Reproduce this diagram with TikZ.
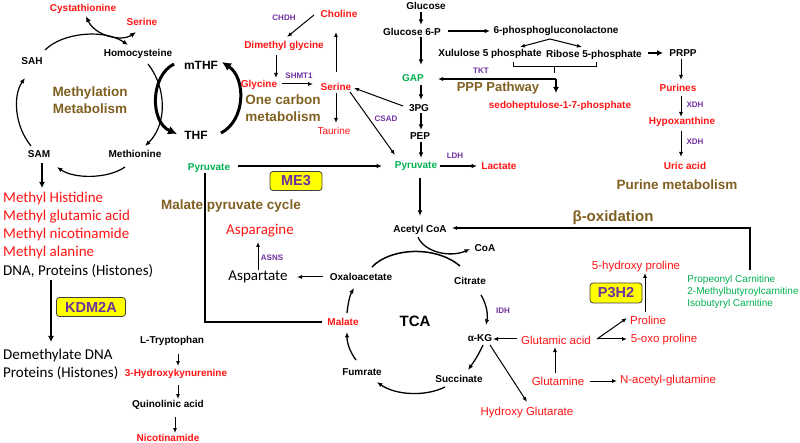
\documentclass[tikz,border=0pt]{standalone}
\usepackage{fontspec}
\setmainfont{Liberation Sans}
\newfontfamily\calfont{Carlito}
\usetikzlibrary{arrows.meta}
\definecolor{cred}{HTML}{FF1414}
\definecolor{cgreen}{HTML}{00B050}
\definecolor{cpurple}{HTML}{7030A0}
\definecolor{cbrown}{HTML}{7F6021}
\definecolor{cyel}{HTML}{FFFF00}
\begin{document}
\begin{tikzpicture}[x=1pt,y=-1pt,
  bk/.style={inner sep=1pt, font=\fontsize{10}{12}\selectfont\bfseries},
  rd/.style={bk, text=cred},
  gr/.style={bk, text=cgreen},
  enz/.style={inner sep=1pt, font=\fontsize{8}{10}\selectfont\bfseries, text=cpurple},
  ttl/.style={inner sep=1pt, font=\fontsize{13.5}{16.5}\selectfont\bfseries, text=cbrown, align=center},
  cal/.style={inner sep=1pt, font=\calfont\fontsize{15}{18}\selectfont, anchor=west},
  ari/.style={inner sep=1pt, font=\fontsize{11.5}{13}\selectfont, text=cred},
  ybox/.style={draw=black!75, line width=0.8pt, fill=cyel, rounded corners=3pt,
    font=\fontsize{14.5}{16}\selectfont\bfseries, text=cpurple, inner sep=0pt},
  arr/.style={-{Latex[length=5pt,width=4pt]}, line width=1pt},
  carr/.style={-{Latex[length=5.5pt,width=4.5pt]}, line width=1.2pt},
  garr/.style={-{Latex[length=5.5pt,width=4.5pt]}, line width=1.3pt},
  thk/.style={-{Latex[length=6pt,width=6pt]}, line width=2pt},
  fat/.style={-{Latex[length=9pt,width=9pt]}, line width=3pt},
  plain/.style={line width=1pt}
]
\useasboundingbox (0,0) rectangle (800,443);

% ---------- Methylation ----------
\node[rd] (cysta) at (83,9) {Cystathionine};
\node[rd] (serA) at (142,22) {Serine};
\node[bk] (homo) at (138,54) {Homocysteine};
\node[bk] (sah) at (32,61) {SAH};
\node[bk] (sam) at (39,154) {SAM};
\node[bk] (meth) at (135,154) {Methionine};
\node[ttl] (mmet) at (90,100) {Methylation\\Metabolism};
\node[inner sep=1pt, font=\fontsize{12}{14}\selectfont\bfseries] (mthf) at (201,65) {mTHF};
\node[inner sep=1pt, font=\fontsize{12}{14}\selectfont\bfseries] (thf) at (196,135) {THF};

\draw[carr] ([shift={(13,-11)}]sah.center) .. controls (63,32) and (105,29) .. ([shift={(-10,-9)}]homo.center);
\draw[carr] ([shift={(10,10)}]homo.center) .. controls (167,88) and (167,125) .. ([shift={(10,-8)}]meth.center);
\draw[carr] ([shift={(-10,13)}]meth.center) .. controls (108,179) and (74,179) .. ([shift={(18,13)}]sam.center);
\draw[carr] ([shift={(-8,-8)}]sam.center) .. controls (14,125) and (13,95) .. ([shift={(-7,17)}]sah.center);
\draw[{Latex[length=6pt,width=5pt]}-{Latex[length=6pt,width=5pt]}, line width=1.2pt]
  ([shift={(-6,10)}]serA.center) .. controls (122,42) and (95,36) .. ([shift={(3,7)}]cysta.center);
\draw[fat] ([shift={(-27,-1)}]mthf.center) .. controls (150,76) and (150,122) .. ([shift={(-19,-1)}]thf.center);
\draw[fat] ([shift={(25,-2)}]thf.center) .. controls (246,120) and (246,78) .. ([shift={(21,-3)}]mthf.center);

% ---------- One carbon ----------
\node[rd] (choline) at (339,14) {Choline};
\node[enz] (chdh) at (284,18) {CHDH};
\node[rd] (dmg) at (284,46) {Dimethyl glycine};
\node[rd] (gly) at (259,85) {Glycine};
\node[enz] (shmt) at (299,76) {SHMT1};
\node[rd] (ser) at (336,87) {Serine};
\node[ttl] (ocm) at (283,108) {One carbon\\metabolism};
\node[inner sep=1pt, font=\fontsize{10}{12}\selectfont, text=cred] (taur) at (334,131) {Taurine};
\node[enz] (csad) at (386,119) {CSAD};

\draw[arr] ([shift={(-25,1)}]choline.center) -- ([shift={(3,-9)}]dmg.center);
\draw[arr] ([shift={(-8,9)}]dmg.center) -- ([shift={(17,-7)}]gly.center);
\draw[arr] ([shift={(23,-1)}]gly.center) -- ([shift={(-23,-3)}]ser.center);
\draw[arr] ([shift={(0,-15)}]ser.center) -- ([shift={(-3,18)}]choline.center);
\draw[arr] ([shift={(0,6)}]ser.center) -- ([shift={(2,-8)}]taur.center);

% ---------- Glycolysis ----------
\node[bk] (glc) at (426,6) {Glucose};
\node[bk] (g6p) at (412,32) {Glucose 6-P};
\node[gr] (gap) at (413,78) {GAP};
\node[bk] (pg3) at (419,108) {3PG};
\node[bk] (pep) at (420,136) {PEP};
\node[gr] (pyr) at (416,166) {Pyruvate};
\node[enz] (ldh) at (455,156) {LDH};
\node[rd] (lac) at (499,166) {Lactate};

\draw[garr] ([shift={(-5,6)}]glc.center) -- ([shift={(9,-7)}]g6p.center);
\draw[garr] ([shift={(9,5)}]g6p.center) -- ([shift={(8,-13)}]gap.center);
\draw[garr] ([shift={(8,7)}]gap.center) -- ([shift={(2,-8)}]pg3.center);
\draw[garr] ([shift={(2,5)}]pg3.center) -- ([shift={(1,-6)}]pep.center);
\draw[garr] ([shift={(1,6)}]pep.center) -- ([shift={(5,-8)}]pyr.center);
\draw[garr] ([shift={(24,0)}]pyr.center) -- ([shift={(-22,0)}]lac.center);
\draw[arr] ([shift={(-16,-2)}]pg3.center) -- ([shift={(18,1)}]ser.center);
\draw[arr] ([shift={(14,5)}]ser.center) -- ([shift={(-21,-11)}]pyr.center);

% ---------- PPP ----------
\node[bk] (pgl) at (556,31) {6-phosphogluconolactone};
\node[bk] (xu5p) at (490,54) {Xululose 5 phosphate};
\node[bk] (r5p) at (594,55) {Ribose 5-phosphate};
\node[enz] (tkt) at (481,71) {TKT};
\node[ttl, font=\fontsize{13}{15}\selectfont\bfseries] (ppp) at (498,88) {PPP Pathway};
\node[rd] (sedo) at (560,106) {sedoheptulose-1-7-phosphate};
\coordinate (tj) at (556,79);

\draw[garr] ([shift={(36,-1)}]g6p.center) -- ([shift={(-66,0)}]pgl.center);
\draw[arr] ([shift={(-6,8)}]pgl.center) -- ([shift={(30,-7)}]xu5p.center);
\draw[arr] ([shift={(-6,8)}]pgl.center) -- ([shift={(-12,-8)}]r5p.center);
\draw[plain] ([shift={(23,8)}]xu5p.center) |- ([shift={(2,12)}]r5p.center) -- ([shift={(2,7)}]r5p.center);
\draw[plain] ([shift={(-40,12)}]r5p.center) -- ([shift={(-40,18)}]r5p.center);
\draw[arr, line width=1.3pt] (tj) -- ([shift={(25,1)}]gap.center);
\draw[thk] (tj) -- ([shift={(-4,-13)}]sedo.center);

% ---------- Purine ----------
\node[bk] (prpp) at (683,53) {PRPP};
\node[rd] (purines) at (678,88) {Purines};
\node[enz] (xdh1) at (695,105) {XDH};
\node[rd] (hypo) at (682,122) {Hypoxanthine};
\node[enz] (xdh2) at (695,142) {XDH};
\node[rd] (uric) at (685,166) {Uric acid};
\node[ttl] (purmet) at (677,185) {Purine metabolism};

\draw[thk] ([shift={(54,-2)}]r5p.center) -- ([shift={(-20,0)}]prpp.center);
\draw[arr] ([shift={(-2,6)}]prpp.center) -- ([shift={(3,-8)}]purines.center);
\draw[arr] ([shift={(3,8)}]purines.center) -- ([shift={(-1,-5)}]hypo.center);
\draw[arr] ([shift={(-1,9)}]hypo.center) -- ([shift={(-4,-9)}]uric.center);

% ---------- Methyl products ----------
\node[cal, text=cred] (mh) at (2,199) {Methyl Histidine};
\node[cal, text=cred] (mg) at (2,217) {Methyl glutamic acid};
\node[cal, text=cred] (mn) at (2,235) {Methyl nicotinamide};
\node[cal, text=cred] (ma) at (2,253) {Methyl alanine};
\node[cal] (dna) at (2,271) {DNA, Proteins (Histones)};
\node[cal, align=left] (demeth) at (2,364) {Demethylate DNA\\Proteins (Histones)};
\node[ybox, minimum width=69pt, minimum height=19pt] (kdm) at (91,307) {KDM2A};

\draw[thk] ([shift={(3,9)}]sam.center) -- ([shift={(40,-11)}]mh.west);
\draw[thk] ([shift={(49,9)}]dna.west) -- ([shift={(49,-22)}]demeth.west);

% ---------- Tryptophan ----------
\node[bk] (trp) at (172,341) {L-Tryptophan};
\node[rd] (hk) at (176,374) {3-Hydroxykynurenine};
\node[bk] (quin) at (168,405) {Quinolinic acid};
\node[rd] (nic) at (168,438) {Nicotinamide};

\draw[arr] ([shift={(6,13)}]trp.center) -- ([shift={(2,-8)}]hk.center);
\draw[arr] ([shift={(2,11)}]hk.center) -- ([shift={(10,-6)}]quin.center);
\draw[arr] ([shift={(7,12)}]quin.center) -- ([shift={(7,-5)}]nic.center);

% ---------- Malate pyruvate cycle ----------
\node[gr] (pyrL) at (209,168) {Pyruvate};
\node[ybox, minimum width=52pt, minimum height=19pt] (me3) at (296,181) {ME3};
\node[ttl] (mpc) at (231,206) {Malate pyruvate cycle};
\node[cal, anchor=center, text=cred] (asn) at (260,231) {Asparagine};
\node[enz] (asns) at (272,258) {ASNS};
\node[cal, anchor=center] (asp) at (258,277) {Aspartate};

% ---------- TCA ----------
\node[bk] (acoa) at (420,230) {Acetyl CoA};
\node[bk] (coa) at (485,248) {CoA};
\node[bk] (oaa) at (361,277) {Oxaloacetate};
\node[bk] (cit) at (470,281) {Citrate};
\node[inner sep=1pt, font=\fontsize{15}{17}\selectfont\bfseries] (tca) at (415,321) {TCA};
\node[enz] (idh) at (503,311) {IDH};
\node[bk] (akg) at (480,338) {α-KG};
\node[bk] (succ) at (459,379) {Succinate};
\node[bk] (fum) at (362,372) {Fumrate};
\node[rd] (mal) at (343,322) {Malate};

\draw[garr] ([shift={(29,-2)}]pyrL.center) -- ([shift={(-34,0)}]pyr.center);
\draw[plain, line width=1.2pt] ([shift={(-4,5)}]pyrL.center) |- ([shift={(-21,0)}]mal.center);
\draw[arr] ([shift={(-38,0)}]oaa.center) -- ([shift={(39,0)}]asp.center);
\draw[arr] ([shift={(0,-7)}]asp.center) -- ([shift={(-2,11)}]asn.center);
\draw[garr] ([shift={(4,12)}]pyr.center) -- ([shift={(0,-14)}]acoa.center);
\draw[plain, line width=1.5pt] ([shift={(11,-10)}]oaa.center) .. controls (390,248) and (435,245) .. ([shift={(-10,-15)}]cit.center);
\draw[garr] ([shift={(-2,7)}]acoa.center) .. controls (424,252) and (450,258) .. ([shift={(-15,1)}]coa.center);
\draw[garr] ([shift={(11,14)}]cit.center) .. controls (487,305) and (488,315) .. ([shift={(6,-13)}]akg.center);
\draw[garr] ([shift={(3,7)}]akg.center) .. controls (478,356) and (473,363) .. ([shift={(9,-9)}]succ.center);
\draw[garr] ([shift={(-14,8)}]succ.center) .. controls (425,397) and (395,395) .. ([shift={(15,10)}]fum.center);
\draw[garr] ([shift={(-6,-12)}]fum.center) .. controls (350,352) and (347,343) .. ([shift={(4,10)}]mal.center);
\draw[garr] ([shift={(4,-9)}]mal.center) .. controls (348,303) and (350,295) .. ([shift={(-7,11)}]oaa.center);

% ---------- Glutamate / proline ----------
\node[ttl, font=\fontsize{15}{17}\selectfont\bfseries] (beta) at (613,218) {β-oxidation};
\node[inner sep=1pt, font=\fontsize{10}{12}\selectfont, text=cgreen, align=left] (carn) at (743,292) {Propeonyl Carnitine\\2-Methylbutyroylcarnitine\\Isobutyryl Carnitine};
\node[ari] (hydp) at (636,267) {5-hydroxy proline};
\node[ybox, minimum width=52pt, minimum height=20pt] (p3h2) at (616,293) {P3H2};
\node[ari] (pro) at (648,320) {Proline};
\node[ari] (glu) at (556,340) {Glutamic acid};
\node[ari] (oxo) at (664,340) {5-oxo proline};
\node[ari] (gln) at (558,381) {Glutamine};
\node[ari] (nac) at (668,381) {N-acetyl-glutamine};
\node[ari] (hg) at (527,413) {Hydroxy Glutarate};

\draw[arr, line width=1.2pt] ([shift={(7,-22)}]carn.center) |- ([shift={(32,-2)}]acoa.center);
\draw[arr] ([shift={(10,7)}]akg.center) -- ([shift={(0,-11)}]hg.center);
\draw[arr] ([shift={(-39,-1)}]glu.center) -- ([shift={(13,1)}]akg.center);
\draw[arr] ([shift={(41,-1)}]glu.center) -- ([shift={(-21,-2)}]pro.center);
\draw[arr] ([shift={(41,-1)}]glu.center) -- ([shift={(-37,-1)}]oxo.center);
\draw[arr] ([shift={(-3,-8)}]pro.center) -- ([shift={(9,6)}]hydp.center);
\draw[arr] ([shift={(-3,-8)}]gln.center) -- ([shift={(-1,7)}]glu.center);
\draw[arr] ([shift={(32,0)}]gln.center) -- ([shift={(-51,0)}]nac.center);
\end{tikzpicture}
\end{document}
